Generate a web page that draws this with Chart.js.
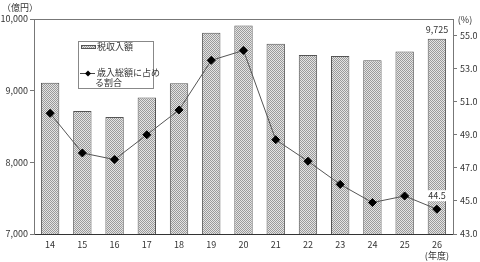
<!DOCTYPE html>
<html lang="ja">
<head>
    <meta charset="UTF-8">
    <title>税収入額の推移</title>
    <script src="https://cdn.jsdelivr.net/npm/chart.js"></script>
    <style>
        body { margin: 0; background: #fff; }
        .wrap { position: relative; width: 480px; height: 262px; }
    </style>
</head>
<body>
    <div class="wrap">
        <canvas id="chart" width="480" height="262"></canvas>
    </div>

    <script>
        // データ
        const years = ['14', '15', '16', '17', '18', '19', '20', '21', '22', '23', '24', '25', '26'];
        const taxRevenue = [9110, 8716, 8632, 8906, 9102, 9807, 9909, 9653, 9499, 9485, 9424, 9545, 9725];
        const shareOfRevenue = [50.3, 47.9, 47.5, 49.0, 50.5, 53.5, 54.1, 48.7, 47.4, 46.0, 44.9, 45.3, 44.5];
        const leftTicks = [7000, 8000, 9000, 10000];
        const rightTicks = [43, 45, 47, 49, 51, 53, 55];

        const FONT = '"Noto Sans CJK JP", "DejaVu Sans", sans-serif';

        // 網掛けパターン
        function makePattern() {
            const c = document.createElement('canvas');
            c.width = 2; c.height = 2;
            const p = c.getContext('2d');
            p.fillStyle = '#e4e4e4';
            p.fillRect(0, 0, 2, 2);
            p.fillStyle = '#9a9a9a';
            p.fillRect(0, 0, 1, 1);
            p.fillRect(1, 1, 1, 1);
            return p.createPattern(c, 'repeat');
        }
        const ctx = document.getElementById('chart').getContext('2d');
        const hatch = makePattern();

        // 枠線・凡例・ラベル
        const decor = {
            id: 'decor',
            afterDatasetsDraw(chart) {
                const c = chart.ctx;
                const a = chart.chartArea;
                c.save();
                c.strokeStyle = '#777';
                c.lineWidth = 1;
                c.beginPath();
                c.moveTo(a.left, a.top + 0.5);
                c.lineTo(a.right, a.top + 0.5);
                c.stroke();

                c.font = '9px ' + FONT;
                c.fillStyle = '#333';
                c.textBaseline = 'middle';
                c.textAlign = 'center';
                c.fillText('（億円）', 20, 8);
                c.fillText('(%)', 465, 20);
                c.fillText('(年度)', chart.scales.x.getPixelForValue(12), 256);

                // 値ラベル
                const xs = chart.scales.x;
                const last = years.length - 1;
                const bx = xs.getPixelForValue(last);
                c.fillText(taxRevenue[last].toLocaleString('en-US'), bx, chart.scales.y.getPixelForValue(taxRevenue[last]) - 9);
                const py = chart.scales.y1.getPixelForValue(shareOfRevenue[last]);
                c.fillStyle = '#fff';
                c.fillRect(bx - 10, py - 19, 21, 11);
                c.fillStyle = '#333';
                c.fillText(shareOfRevenue[last].toFixed(1), bx, py - 14);

                // 凡例
                const lx = a.left + 44, ly = 41;
                c.fillStyle = '#fff';
                c.fillRect(lx, ly, 75, 47);
                c.strokeStyle = '#888';
                c.strokeRect(lx + 0.5, ly + 0.5, 75, 47);
                c.fillStyle = hatch;
                c.fillRect(lx + 3, ly + 4, 15, 4);
                c.strokeStyle = '#555';
                c.strokeRect(lx + 3.5, ly + 4.5, 14, 3);
                c.fillStyle = '#333';
                c.textAlign = 'left';
                c.fillText('税収入額', lx + 19, ly + 6);

                c.strokeStyle = '#444';
                c.beginPath();
                c.moveTo(lx + 2, ly + 32.5);
                c.lineTo(lx + 17, ly + 32.5);
                c.stroke();
                c.fillStyle = '#000';
                c.beginPath();
                c.moveTo(lx + 10, ly + 29.5);
                c.lineTo(lx + 13, ly + 32.5);
                c.lineTo(lx + 10, ly + 35.5);
                c.lineTo(lx + 7, ly + 32.5);
                c.closePath();
                c.fill();
                c.fillStyle = '#333';
                c.fillText('歳入総額に占め', lx + 19, ly + 32);
                c.fillText('る割合', lx + 17, ly + 42);
                c.restore();
            }
        };

        new Chart(ctx, {
            data: {
                labels: years,
                datasets: [
                    {
                        type: 'line',
                        label: '歳入総額に占める割合',
                        data: shareOfRevenue,
                        yAxisID: 'y1',
                        borderColor: '#555',
                        borderWidth: 1,
                        pointStyle: 'rectRot',
                        pointRadius: 4,
                        pointBackgroundColor: '#000',
                        pointBorderColor: '#000',
                        tension: 0,
                        order: 0
                    },
                    {
                        type: 'bar',
                        label: '税収入額',
                        data: taxRevenue,
                        yAxisID: 'y',
                        backgroundColor: hatch,
                        borderColor: '#555',
                        borderWidth: 1,
                        barPercentage: 0.57,
                        categoryPercentage: 1.0,
                        order: 1
                    }
                ]
            },
            options: {
                responsive: false,
                animation: false,
                layout: { padding: { top: 19, left: 0, right: 0, bottom: 0 } },
                plugins: { legend: { display: false }, tooltip: { enabled: false } },
                scales: {
                    x: {
                        grid: { display: false, drawTicks: false },
                        border: { color: '#333', width: 1 },
                        ticks: { color: '#333', font: { family: FONT, size: 9 }, padding: 5, maxRotation: 0 },
                        afterFit(s) { s.height = 28; }
                    },
                    y: {
                        position: 'left',
                        min: 7000,
                        max: 10000,
                        afterBuildTicks(s) { s.ticks = leftTicks.map(v => ({ value: v })); },
                        grid: { drawOnChartArea: false, tickLength: 4, color: '#777' },
                        border: { color: '#777', width: 1 },
                        ticks: {
                            color: '#333',
                            font: { family: FONT, size: 9 },
                            padding: 2,
                            callback: v => v.toLocaleString('en-US')
                        },
                        afterFit(s) { s.width = 34; }
                    },
                    y1: {
                        position: 'right',
                        min: 43,
                        max: 56,
                        afterBuildTicks(s) { s.ticks = rightTicks.map(v => ({ value: v })); },
                        grid: { drawOnChartArea: false, tickLength: 4, color: '#777' },
                        border: { color: '#777', width: 1 },
                        ticks: {
                            color: '#333',
                            font: { family: FONT, size: 9 },
                            padding: 3,
                            callback: v => Number(v).toFixed(1)
                        },
                        afterFit(s) { s.width = 27; }
                    }
                }
            },
            plugins: [decor]
        });
    </script>
</body>
</html>
